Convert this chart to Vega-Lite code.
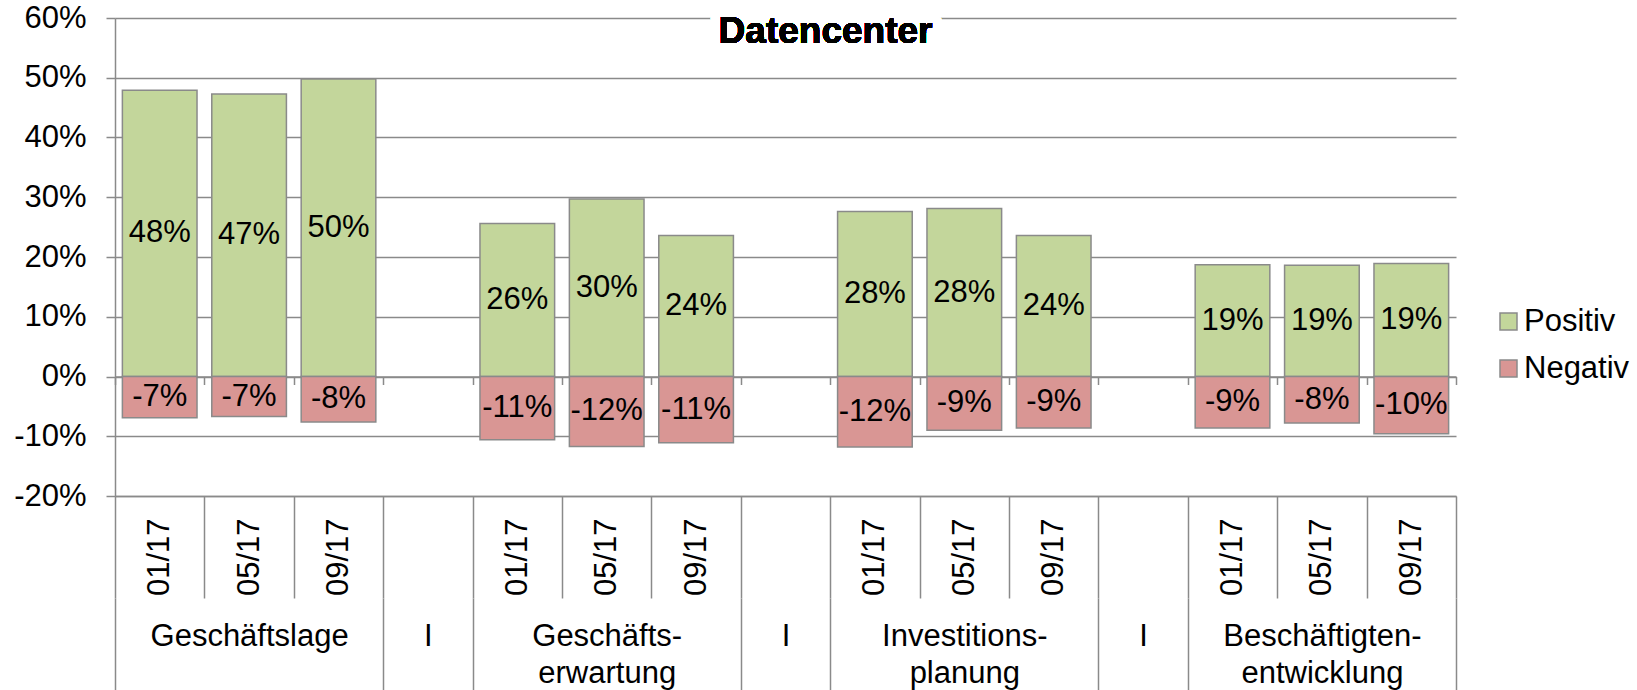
{
  "$schema": "https://vega.github.io/schema/vega-lite/v6.json",
  "width": 1341,
  "height": 478,
  "autosize": {"type": "none"},
  "padding": {"left": 115, "top": 18, "right": 181, "bottom": 194},
  "background": "white",
  "config": {
    "font": "Liberation Sans",
    "view": {"stroke": null},
    "axis": {"labelFont": "Liberation Sans", "labelColor": "black", "labelFontSize": 31},
    "legend": {"labelFont": "Liberation Sans", "labelColor": "black"},
    "text": {"font": "Liberation Sans"}
  },
  "data": {
    "values": [
      {"gruppe": "Geschäftslage", "zeit": "01/17", "kat": "GL|01/17", "serie": "Positiv", "wert": 0.479},
      {"gruppe": "Geschäftslage", "zeit": "05/17", "kat": "GL|05/17", "serie": "Positiv", "wert": 0.473},
      {"gruppe": "Geschäftslage", "zeit": "09/17", "kat": "GL|09/17", "serie": "Positiv", "wert": 0.498},
      {"gruppe": "Geschäftslage", "zeit": "01/17", "kat": "GL|01/17", "serie": "Negativ", "wert": -0.069},
      {"gruppe": "Geschäftslage", "zeit": "05/17", "kat": "GL|05/17", "serie": "Negativ", "wert": -0.067},
      {"gruppe": "Geschäftslage", "zeit": "09/17", "kat": "GL|09/17", "serie": "Negativ", "wert": -0.076},
      {"gruppe": "Geschäftserwartung", "zeit": "01/17", "kat": "GE|01/17", "serie": "Positiv", "wert": 0.256},
      {"gruppe": "Geschäftserwartung", "zeit": "05/17", "kat": "GE|05/17", "serie": "Positiv", "wert": 0.297},
      {"gruppe": "Geschäftserwartung", "zeit": "09/17", "kat": "GE|09/17", "serie": "Positiv", "wert": 0.236},
      {"gruppe": "Geschäftserwartung", "zeit": "01/17", "kat": "GE|01/17", "serie": "Negativ", "wert": -0.106},
      {"gruppe": "Geschäftserwartung", "zeit": "05/17", "kat": "GE|05/17", "serie": "Negativ", "wert": -0.117},
      {"gruppe": "Geschäftserwartung", "zeit": "09/17", "kat": "GE|09/17", "serie": "Negativ", "wert": -0.111},
      {"gruppe": "Investitionsplanung", "zeit": "01/17", "kat": "IP|01/17", "serie": "Positiv", "wert": 0.276},
      {"gruppe": "Investitionsplanung", "zeit": "05/17", "kat": "IP|05/17", "serie": "Positiv", "wert": 0.281},
      {"gruppe": "Investitionsplanung", "zeit": "09/17", "kat": "IP|09/17", "serie": "Positiv", "wert": 0.236},
      {"gruppe": "Investitionsplanung", "zeit": "01/17", "kat": "IP|01/17", "serie": "Negativ", "wert": -0.118},
      {"gruppe": "Investitionsplanung", "zeit": "05/17", "kat": "IP|05/17", "serie": "Negativ", "wert": -0.090},
      {"gruppe": "Investitionsplanung", "zeit": "09/17", "kat": "IP|09/17", "serie": "Negativ", "wert": -0.086},
      {"gruppe": "Beschäftigtenentwicklung", "zeit": "01/17", "kat": "BE|01/17", "serie": "Positiv", "wert": 0.187},
      {"gruppe": "Beschäftigtenentwicklung", "zeit": "05/17", "kat": "BE|05/17", "serie": "Positiv", "wert": 0.186},
      {"gruppe": "Beschäftigtenentwicklung", "zeit": "09/17", "kat": "BE|09/17", "serie": "Positiv", "wert": 0.189},
      {"gruppe": "Beschäftigtenentwicklung", "zeit": "01/17", "kat": "BE|01/17", "serie": "Negativ", "wert": -0.086},
      {"gruppe": "Beschäftigtenentwicklung", "zeit": "05/17", "kat": "BE|05/17", "serie": "Negativ", "wert": -0.078},
      {"gruppe": "Beschäftigtenentwicklung", "zeit": "09/17", "kat": "BE|09/17", "serie": "Negativ", "wert": -0.096}
    ]
  },
  "resolve": {"axis": {"x": "independent", "y": "independent"}},
  "layer": [
    {
      "mark": {"type": "bar", "width": {"band": 0.835}, "stroke": "#8a8a8a", "strokeWidth": 1.5},
      "encoding": {
        "x": {
          "field": "kat", "type": "nominal",
          "scale": {"type": "band", "paddingInner": 0, "paddingOuter": 0, "domain": ["GL|01/17","GL|05/17","GL|09/17","sep1","GE|01/17","GE|05/17","GE|09/17","sep2","IP|01/17","IP|05/17","IP|09/17","sep3","BE|01/17","BE|05/17","BE|09/17"]},
          "axis": {
            "orient": "bottom", "offset": 0, "title": null, "grid": false,
            "tickBand": "extent", "tickSize": 102, "tickColor": "#8a8a8a", "tickWidth": 1.5,
            "domainColor": "#8a8a8a", "domainWidth": 1.5,
            "labelAngle": 270, "labelAlign": "right", "labelBaseline": "middle",
            "labelPadding": -80, "labelFontSize": 31, "labelOverlap": false,
            "labelExpr": "isString(datum.value) && substring(datum.value, 0, 3) != 'sep' ? substring(datum.value, 3) : ''"
          }
        },
        "y": {
          "field": "wert", "type": "quantitative", "stack": null,
          "scale": {"domain": [-0.2, 0.6], "nice": false, "zero": true},
          "axis": {
            "orient": "left", "title": null, "values": [-0.2, -0.1, 0, 0.1, 0.2, 0.3, 0.4, 0.5, 0.6],
            "labelExpr": "round(datum.value * 100) + '%'",
            "grid": true, "gridColor": "#8a8a8a", "gridWidth": 1.5,
            "domain": true, "domainColor": "#8a8a8a", "domainWidth": 1.5,
            "ticks": true, "tickSize": 9, "tickColor": "#8a8a8a", "tickWidth": 1.5,
            "labelPadding": 20, "labelFontSize": 31
          }
        },
        "color": {
          "field": "serie", "type": "nominal",
          "scale": {"domain": ["Positiv", "Negativ"], "range": ["#C3D69B", "#D99694"]},
          "legend": {
            "orient": "none", "legendX": 1378, "legendY": 288, "title": null,
            "symbolType": "square", "symbolSize": 289, "symbolStrokeColor": "#8a8a8a", "symbolStrokeWidth": 1.5,
            "symbolOpacity": 1, "labelFontSize": 31, "labelOffset": 0, "rowPadding": 15, "padding": 0, "labelLimit": 0
          }
        }
      }
    },
    {
      "transform": [
        {"calculate": "datum.wert / 2", "as": "mitte"},
        {"calculate": "round(datum.wert * 100) + '%'", "as": "beschriftung"}
      ],
      "mark": {"type": "text", "fontSize": 31, "baseline": "middle", "align": "center", "color": "black"},
      "encoding": {
        "x": {
          "field": "kat", "type": "nominal",
          "scale": {"type": "band", "paddingInner": 0, "paddingOuter": 0, "domain": ["GL|01/17","GL|05/17","GL|09/17","sep1","GE|01/17","GE|05/17","GE|09/17","sep2","IP|01/17","IP|05/17","IP|09/17","sep3","BE|01/17","BE|05/17","BE|09/17"]},
          "axis": {
            "orient": "bottom", "offset": 102, "title": null, "grid": false, "domain": false,
            "tickBand": "extent", "tickSize": 92, "tickColor": "#8a8a8a", "tickWidth": 1.5,
            "tickOpacity": {"condition": {"test": "isString(datum.value) && (indexof(datum.value, '01/17') >= 0 || indexof(datum.value, '05/17') >= 0)", "value": 0}, "value": 1},
            "labelAngle": 0, "labelAlign": "center", "labelBaseline": "top", "labelLimit": 0,
            "labelPadding": -69, "labelFontSize": 31, "labelLineHeight": 37, "labelOverlap": false,
            "labelExpr": "datum.value == 'GL|05/17' ? 'Geschäftslage' : datum.value == 'GE|05/17' ? ['Geschäfts-', 'erwartung'] : datum.value == 'IP|05/17' ? ['Investitions-', 'planung'] : datum.value == 'BE|05/17' ? ['Beschäftigten-', 'entwicklung'] : (isString(datum.value) && substring(datum.value, 0, 3) == 'sep') ? 'I' : ''"
          }
        },
        "y": {"field": "mitte", "type": "quantitative", "axis": null},
        "text": {"field": "beschriftung", "type": "nominal"}
      }
    },
    {
      "mark": {"type": "text", "text": "Datencenter", "fontSize": 37, "fontWeight": "bold", "baseline": "alphabetic", "align": "center", "dx": 40, "dy": 25, "fill": "white", "stroke": "white", "strokeWidth": 20, "strokeJoin": "round"},
      "encoding": {
        "x": {
          "datum": "sep2", "type": "nominal",
          "scale": {"type": "band", "paddingInner": 0, "paddingOuter": 0, "domain": ["GL|01/17","GL|05/17","GL|09/17","sep1","GE|01/17","GE|05/17","GE|09/17","sep2","IP|01/17","IP|05/17","IP|09/17","sep3","BE|01/17","BE|05/17","BE|09/17"]},
          "axis": {
            "orient": "bottom", "offset": -119.5, "title": null, "grid": false, "labels": false,
            "domain": true, "domainColor": "#8a8a8a", "domainWidth": 1.5,
            "tickBand": "extent", "tickSize": 8, "tickColor": "#8a8a8a", "tickWidth": 1.5
          }
        },
        "y": {"datum": 0.6, "type": "quantitative", "axis": null}
      }
    },
    {
      "mark": {"type": "text", "text": "Datencenter", "fontSize": 37, "fontWeight": "bold", "baseline": "alphabetic", "align": "center", "dx": 40, "dy": 25, "color": "black"},
      "encoding": {
        "x": {
          "datum": "sep2", "type": "nominal",
          "scale": {"type": "band", "paddingInner": 0, "paddingOuter": 0, "domain": ["GL|01/17","GL|05/17","GL|09/17","sep1","GE|01/17","GE|05/17","GE|09/17","sep2","IP|01/17","IP|05/17","IP|09/17","sep3","BE|01/17","BE|05/17","BE|09/17"]},
          "axis": null
        },
        "y": {"datum": 0.6, "type": "quantitative", "axis": null}
      }
    }
  ]
}
